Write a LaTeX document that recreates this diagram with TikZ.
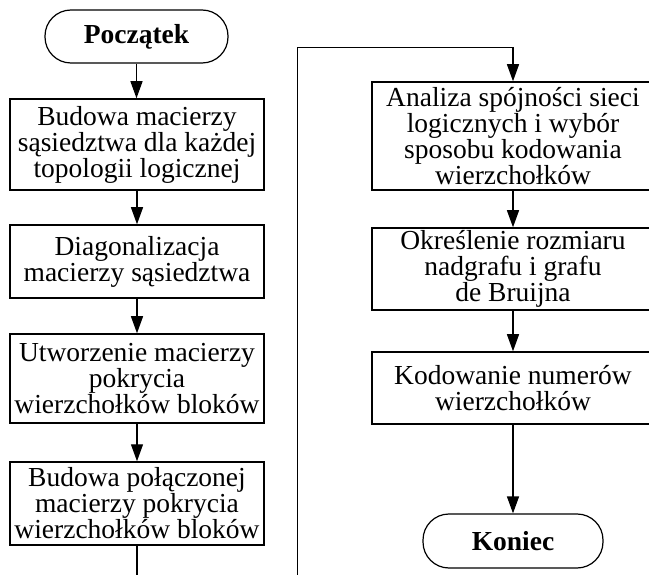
\documentclass[tikz,border=0pt]{standalone}
\usepackage{fontspec}
\setmainfont{Liberation Serif}
\usetikzlibrary{arrows.meta}
\begin{document}
\begin{tikzpicture}[x=1pt,y=-1pt,
  every node/.style={font=\fontsize{27.5}{26}\selectfont, align=center, inner sep=0pt},
  procbox/.style={draw, line width=1.5pt, minimum width=254pt},
  procwide/.style={draw, line width=1.5pt, minimum width=282pt},
  termbox/.style={draw, line width=1.2pt, rounded corners=26pt,
    font=\fontsize{27.5}{26}\selectfont\bfseries},
  flow/.style={line width=1.3pt, -{Triangle[length=17pt,width=12pt]}},
  link/.style={line width=1.3pt}]
\clip (0,0) rectangle (649,575);

% left column
\node[termbox, minimum width=183pt, minimum height=53pt] (start) at (136.5,36.5) {Początek};
\node[procbox, minimum height=91pt] (b1) at (137,144.5) {Budowa macierzy\\sąsiedztwa dla każdej\\topologii logicznej};
\node[procbox, minimum height=73pt] (b2) at (137,261.5) {Diagonalizacja\\macierzy sąsiedztwa};
\node[procbox, minimum height=89pt] (b3) at (137,378.5) {Utworzenie macierzy\\pokrycia\\wierzchołków bloków};
\node[procbox, minimum height=83pt] (b4) at (137,503.5) {Budowa połączonej\\macierzy pokrycia\\wierzchołków bloków};

% right column
\node[procwide, minimum height=108pt] (b5) at (513,136) {Analiza spójności sieci\\logicznych i wybór\\sposobu kodowania\\wierzchołków};
\node[procwide, minimum height=82pt] (b6) at (513,269) {Określenie rozmiaru\\nadgrafu i grafu\\de Bruijna};
\node[procwide, minimum height=72pt] (b7) at (513,388) {Kodowanie numerów\\wierzchołków};
\node[termbox, minimum width=180pt, minimum height=54pt] (end) at (513,541) {Koniec};

% page-crossing connector
\coordinate (outL) at (137,585);
\coordinate (inR) at (297.5,585);
\coordinate (turn) at (297.5,47.5);

\draw[flow] (start.south) -- (start.south |- b1.north);
\draw[flow] (b1) -- (b2);
\draw[flow] (b2) -- (b3);
\draw[flow] (b3) -- (b4);
\draw[link] (b4.south) -- (outL);
\draw[flow] (inR) -- (turn) -| (b5.north);
\draw[flow] (b5) -- (b6);
\draw[flow] (b6) -- (b7);
\draw[flow] (b7) -- (end);
\end{tikzpicture}
\end{document}
